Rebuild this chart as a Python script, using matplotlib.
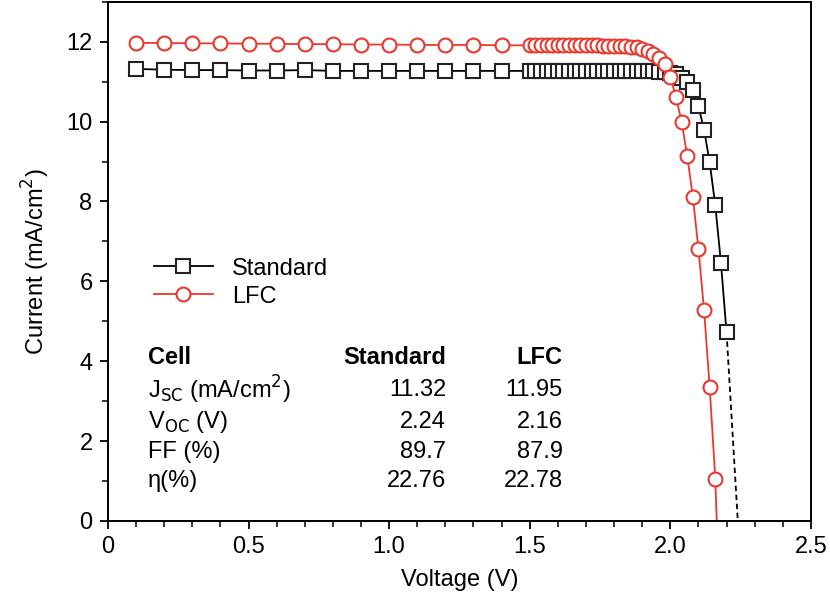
import numpy as np
import matplotlib
matplotlib.use('Agg')
import matplotlib.pyplot as plt
from matplotlib.ticker import MultipleLocator, FixedFormatter, FixedLocator

plt.rcParams['font.family'] = ['Liberation Sans', 'DejaVu Sans']

# Standard cell J-V data (V, mA/cm2)
std_v = [0.1, 0.2, 0.3, 0.4, 0.5, 0.6, 0.7, 0.8, 0.9, 1.0, 1.1, 1.2, 1.3, 1.4,
         1.50, 1.52, 1.54, 1.56, 1.58, 1.60, 1.62, 1.64, 1.66, 1.68, 1.70,
         1.72, 1.74, 1.76, 1.78, 1.80, 1.82, 1.84, 1.86, 1.88, 1.90, 1.92,
         1.94, 1.96, 1.98, 2.00, 2.02, 2.04, 2.06, 2.08, 2.10, 2.12, 2.14,
         2.16, 2.18, 2.20]
std_i = [11.32, 11.30, 11.29, 11.29, 11.28, 11.28, 11.29, 11.27, 11.27, 11.27, 11.27, 11.27, 11.27, 11.27,
         11.27, 11.27, 11.27, 11.27, 11.27, 11.27, 11.27, 11.27, 11.27, 11.27, 11.27,
         11.27, 11.27, 11.27, 11.27, 11.27, 11.27, 11.27, 11.27, 11.27, 11.26, 11.26,
         11.26, 11.25, 11.24, 11.22, 11.18, 11.10, 10.98, 10.80, 10.38, 9.80, 8.98,
         7.90, 6.47, 4.72]
std_voc = 2.24

# LFC cell J-V data
lfc_v = [0.1, 0.2, 0.3, 0.4, 0.5, 0.6, 0.7, 0.8, 0.9, 1.0, 1.1, 1.2, 1.3, 1.4,
         1.50, 1.52, 1.54, 1.56, 1.58, 1.60, 1.62, 1.64, 1.66, 1.68, 1.70,
         1.72, 1.74, 1.76, 1.78, 1.80, 1.82, 1.84, 1.86, 1.88, 1.90, 1.92,
         1.94, 1.96, 1.98, 2.00, 2.02, 2.04, 2.06, 2.08, 2.10, 2.12, 2.14, 2.16]
lfc_i = [11.97, 11.97, 11.96, 11.96, 11.95, 11.95, 11.94, 11.94, 11.93, 11.93, 11.92, 11.92, 11.92, 11.91,
         11.91, 11.91, 11.91, 11.91, 11.91, 11.91, 11.91, 11.91, 11.91, 11.91, 11.91,
         11.91, 11.91, 11.90, 11.90, 11.90, 11.90, 11.89, 11.88, 11.86, 11.82, 11.77,
         11.70, 11.60, 11.45, 11.12, 10.62, 10.00, 9.15, 8.12, 6.82, 5.28, 3.35, 1.05]
lfc_voc = 2.165

table_rows = ['Cell', 'J$_{\\mathrm{SC}}$ (mA/cm$^{2}$)', 'V$_{\\mathrm{OC}}$ (V)', 'FF (%)', 'η(%)']
table_std = ['Standard', '11.32', '2.24', '89.7', '22.76']
table_lfc = ['LFC', '11.95', '2.16', '87.9', '22.78']

red = '#e8392e'
fs = 17

fig = plt.figure(figsize=(8.3, 6.03), dpi=100)
ax = fig.add_axes([0.130, 0.136, 0.847, 0.861])

ax.plot(std_v, std_i, color='black', lw=1.3, marker='s', ms=9.5, mfc='white',
        mec='#222222', mew=1.5, label='Standard', zorder=3)
ax.plot([std_v[-1], std_voc], [std_i[-1], 0], color='black', lw=1.3, ls=(0, (3, 2)), zorder=2)

ax.plot(lfc_v, lfc_i, color=red, lw=1.3, marker='o', ms=10, mfc='white',
        mec=red, mew=1.5, label='LFC', zorder=4)
ax.plot([lfc_v[-1], lfc_voc], [lfc_i[-1], 0], color=red, lw=1.3, zorder=2)

ax.set_xlim(0, 2.5)
ax.set_ylim(0, 13)
ax.xaxis.set_major_locator(FixedLocator([0, 0.5, 1.0, 1.5, 2.0, 2.5]))
ax.xaxis.set_major_formatter(FixedFormatter(['0', '0.5', '1.0', '1.5', '2.0', '2.5']))
ax.xaxis.set_minor_locator(MultipleLocator(0.1))
ax.yaxis.set_major_locator(MultipleLocator(2))
ax.yaxis.set_minor_locator(MultipleLocator(1))
ax.tick_params(which='major', direction='out', length=6, width=1.3, labelsize=fs, pad=5)
ax.tick_params(which='minor', direction='out', length=4, width=1.1)
for s in ax.spines.values():
    s.set_linewidth(1.4)

ax.set_xlabel('Voltage (V)', fontsize=fs, labelpad=8)
ax.set_ylabel('Current (mA/cm$^{2}$)', fontsize=fs, labelpad=10)

ax.legend(loc='upper left', bbox_to_anchor=(0.035, 0.548), frameon=False, fontsize=fs,
          handlelength=2.5, handletextpad=0.8, labelspacing=0.25)

row_y = [0.314, 0.252, 0.191, 0.133, 0.077]
for k in range(len(table_rows)):
    w = 'bold' if k == 0 else 'normal'
    ax.text(0.057, row_y[k], table_rows[k], transform=ax.transAxes, fontsize=fs,
            fontweight=w, ha='left', va='center')
    ax.text(0.481, row_y[k], table_std[k], transform=ax.transAxes, fontsize=fs,
            fontweight=w, ha='right', va='center')
    ax.text(0.647, row_y[k], table_lfc[k], transform=ax.transAxes, fontsize=fs,
            fontweight=w, ha='right', va='center')

fig.savefig('out.png', dpi=100)
